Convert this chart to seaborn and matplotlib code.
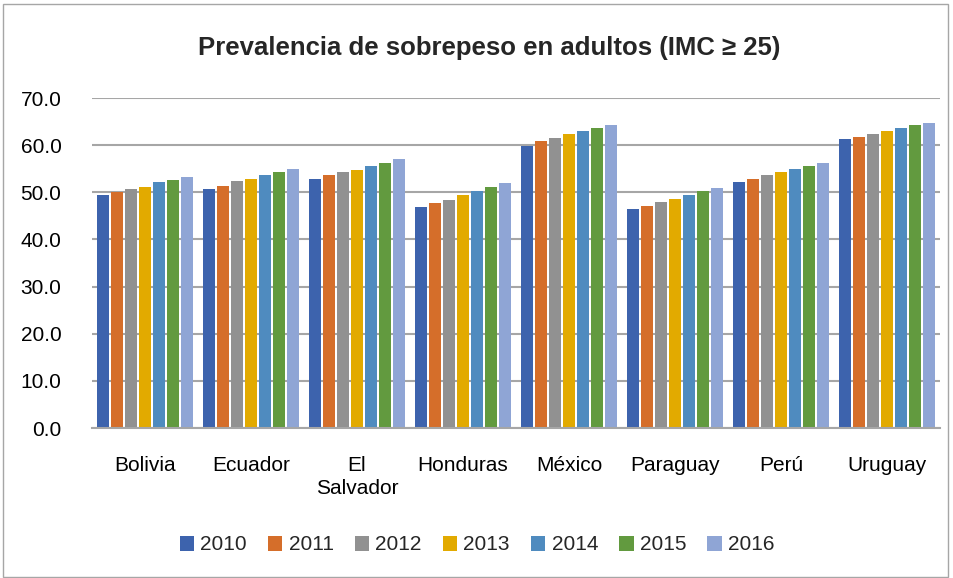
import matplotlib
matplotlib.use("Agg")
import matplotlib.pyplot as plt
import seaborn as sns
import pandas as pd
from matplotlib.patches import Rectangle
from matplotlib.ticker import FormatStrFormatter

paises = ["Bolivia", "Ecuador", "El\nSalvador", "Honduras", "México",
          "Paraguay", "Perú", "Uruguay"]
anios = ["2010", "2011", "2012", "2013", "2014", "2015", "2016"]

# valores por pais, 2010 -> 2016
bolivia = [49.5, 50.1, 50.8, 51.2, 52.1, 52.7, 53.3]
ecuador = [50.8, 51.4, 52.3, 52.9, 53.6, 54.4, 55.0]
el_salvador = [52.9, 53.6, 54.2, 54.8, 55.5, 56.3, 57.0]
honduras = [46.9, 47.7, 48.4, 49.4, 50.3, 51.1, 52.0]
mexico = [59.9, 60.9, 61.6, 62.3, 62.9, 63.6, 64.2]
paraguay = [46.4, 47.1, 48.0, 48.6, 49.4, 50.3, 50.9]
peru = [52.2, 52.9, 53.7, 54.3, 55.0, 55.6, 56.3]
uruguay = [61.4, 61.8, 62.4, 63.1, 63.6, 64.2, 64.6]

colores = ["#3D63AD", "#D56E2A", "#919191", "#E2AA00",
           "#4F8BBF", "#629A3F", "#8FA5D5"]

valores = [bolivia, ecuador, el_salvador, honduras, mexico, paraguay, peru, uruguay]
filas = []
for pais, vals in zip(paises, valores):
    for anio, v in zip(anios, vals):
        filas.append({"pais": pais, "anio": anio, "valor": v})
df = pd.DataFrame(filas)

sns.set_theme(style="white")
plt.rcParams["font.family"] = ["Liberation Sans Narrow", "Liberation Sans", "DejaVu Sans"]

fig = plt.figure(figsize=(9.54, 5.78), dpi=100)
ax = fig.add_axes([92 / 954, 1 - 428 / 578, 848 / 954, 330 / 578])

sns.barplot(data=df, x="pais", y="valor", hue="anio", palette=colores,
            width=0.93, gap=0.12, ax=ax, legend=True, saturation=1,
            linewidth=0)

ax.set_ylim(0, 70)
ax.set_yticks(range(0, 71, 10))
ax.yaxis.set_major_formatter(FormatStrFormatter("%.1f"))
ax.yaxis.grid(True, color="#A6A6A6", linewidth=1.5)
ax.set_axisbelow(True)
ax.set_xlabel("")
ax.set_ylabel("")
for s in ["top", "right", "left"]:
    ax.spines[s].set_visible(False)
ax.spines["bottom"].set_color("#A6A6A6")
ax.spines["bottom"].set_linewidth(1.5)
ax.tick_params(axis="y", labelsize=15, pad=22, length=0, colors="black")
ax.tick_params(axis="x", labelsize=15, pad=20, length=0, colors="black")
for lab in ax.get_xticklabels():
    lab.set_linespacing(1.25)

h, l = ax.get_legend_handles_labels()
ax.get_legend().remove()
fig.legend(h, l, loc="center", bbox_to_anchor=(0.5, 1 - 545 / 578), ncol=7,
           frameon=False, fontsize=15, handlelength=0.7, handleheight=0.7,
           handletextpad=0.3, columnspacing=1.0)

fig.text(0.513, 1 - 48 / 578, "Prevalencia de sobrepeso en adultos (IMC ≥ 25)",
         ha="center", va="center", fontsize=18.5, fontweight="bold")

fig.patches.append(Rectangle((3 / 954, 0.002), 945 / 954, 1 - 5 / 578,
                             transform=fig.transFigure, fill=False,
                             edgecolor="#A6A6A6", linewidth=1))

fig.savefig("out.png", dpi=100)
